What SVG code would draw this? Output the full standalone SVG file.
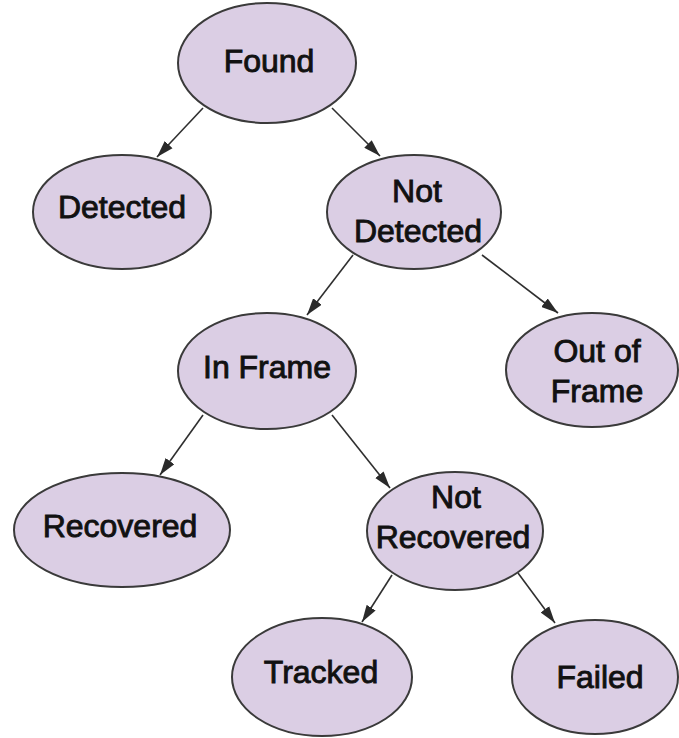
<svg xmlns="http://www.w3.org/2000/svg" width="679" height="738" viewBox="0 0 679 738">
<defs>
<marker id="arr" viewBox="0 0 16 10" refX="16" refY="5" markerWidth="17" markerHeight="11" markerUnits="userSpaceOnUse" orient="auto">
<path d="M0,0 L16,5 L0,10 Z" fill="#2a2a2a"/>
</marker>
</defs>
<style>
.node ellipse{fill:#dbcee4;stroke:#3a3a3a;stroke-width:2}
.node text{font-family:"Liberation Sans",Arial,sans-serif;font-size:32px;fill:#111;text-anchor:middle;stroke:#111;stroke-width:0.9}
.edges line{stroke:#2f2f2f;stroke-width:1.6;marker-end:url(#arr)}
</style>
<rect width="679" height="738" fill="#ffffff"/>
<g class="edges" id="edges">
<line x1="203" y1="108" x2="157" y2="157"/>
<line x1="332" y1="108" x2="380" y2="156"/>
<line x1="353" y1="255" x2="307" y2="315"/>
<line x1="482" y1="255" x2="558" y2="313"/>
<line x1="203" y1="415" x2="160" y2="475"/>
<line x1="332" y1="415" x2="390" y2="488"/>
<line x1="392" y1="575" x2="362" y2="622"/>
<line x1="518" y1="573" x2="555" y2="623"/>
</g>
<g class="node" id="found"><ellipse cx="267" cy="63" rx="89" ry="60"/><text x="269" y="72">Found</text></g>
<g class="node" id="detected"><ellipse cx="122" cy="212" rx="89" ry="57"/><text x="122" y="218">Detected</text></g>
<g class="node" id="not-detected"><ellipse cx="414" cy="212" rx="87" ry="57"/><text x="417" y="202">Not</text><text x="418" y="242">Detected</text></g>
<g class="node" id="in-frame"><ellipse cx="267" cy="371" rx="89" ry="58"/><text x="267" y="378">In Frame</text></g>
<g class="node" id="out-of-frame"><ellipse cx="592" cy="370" rx="86" ry="57"/><text x="597" y="362">Out of</text><text x="597" y="402">Frame</text></g>
<g class="node" id="recovered"><ellipse cx="122" cy="530" rx="108" ry="57"/><text x="120" y="537">Recovered</text></g>
<g class="node" id="not-recovered"><ellipse cx="455" cy="531" rx="88" ry="59"/><text x="456" y="508">Not</text><text x="453" y="548">Recovered</text></g>
<g class="node" id="tracked"><ellipse cx="322" cy="677" rx="90" ry="59"/><text x="321" y="683">Tracked</text></g>
<g class="node" id="failed"><ellipse cx="595" cy="677" rx="83" ry="57"/><text x="600" y="688">Failed</text></g>
</svg>
